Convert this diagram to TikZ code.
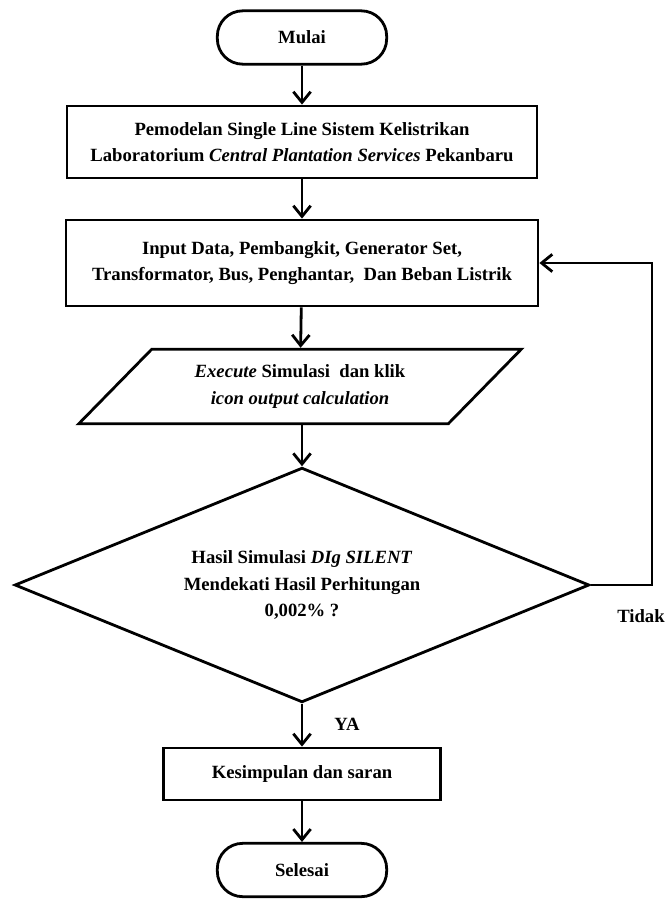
\documentclass[tikz,border=0pt]{standalone}
\usepackage{fontspec}
\setmainfont{Liberation Serif}
\usetikzlibrary{shapes.geometric,arrows.meta}

\begin{document}
\begin{tikzpicture}[x=0.75pt,y=-0.75pt,line width=2.1pt,
    every node/.style={font=\bfseries\fontsize{14}{20}\selectfont,align=center},
    term/.style={draw,rounded corners=19pt,minimum width=127pt,minimum height=40pt},
    prosesbox/.style={draw,inner sep=0pt},
    arr/.style={-{Straight Barb[length=8pt,width=13pt]}}]

      \useasboundingbox (0,0) rectangle (668,899);

      \node[term] (mulai) at (302,37.5) {Mulai};
      \node[prosesbox,minimum width=352.5pt,minimum height=54pt] (model) at (302,142)
        {Pemodelan Single Line Sistem Kelistrikan\\Laboratorium \textit{Central Plantation Services} Pekanbaru};
      \node[prosesbox,minimum width=354pt,minimum height=64.5pt] (input) at (302,263)
        {Input Data, Pembangkit, Generator Set,\\Transformator, Bus, Penghantar,\ \ Dan Beban Listrik};
      \node[draw,trapezium,trapezium left angle=40,trapezium right angle=140,trapezium stretches,
        minimum width=333pt,minimum height=56pt,inner sep=0pt] (exec) at (300,386.5)
        {\textit{Execute} Simulasi\ \ dan klik\\\textit{icon output calculation}};
      \node[draw,diamond,aspect=2.45,minimum width=431pt,minimum height=176pt,inner sep=0pt] (cek) at (302,585)
        {Hasil Simulasi \textit{DIg SILENT}\\Mendekati Hasil Perhitungan\\0,002\% ?};
      \node[prosesbox,minimum width=208pt,minimum height=39pt] (simpul) at (302,774) {Kesimpulan dan saran};
      \node[term] (selesai) at (302,870) {Selesai};

      \node (ya) at (347,724) {YA};
      \node (tidak) at (641,616) {Tidak};
      \coordinate (balik) at (652,585);

      \draw[arr] (mulai) -- (model);
      \draw[arr] (model) -- (input);
      \draw[arr] (input) -- (exec);
      \draw[arr] (exec.south -| cek.north) -- (cek);
      \draw[arr] (cek) -- (simpul);
      \draw[arr] (simpul) -- (selesai);
      \draw[arr] (cek.east) -- (balik) |- (input.east);

    \end{tikzpicture}
\end{document}
